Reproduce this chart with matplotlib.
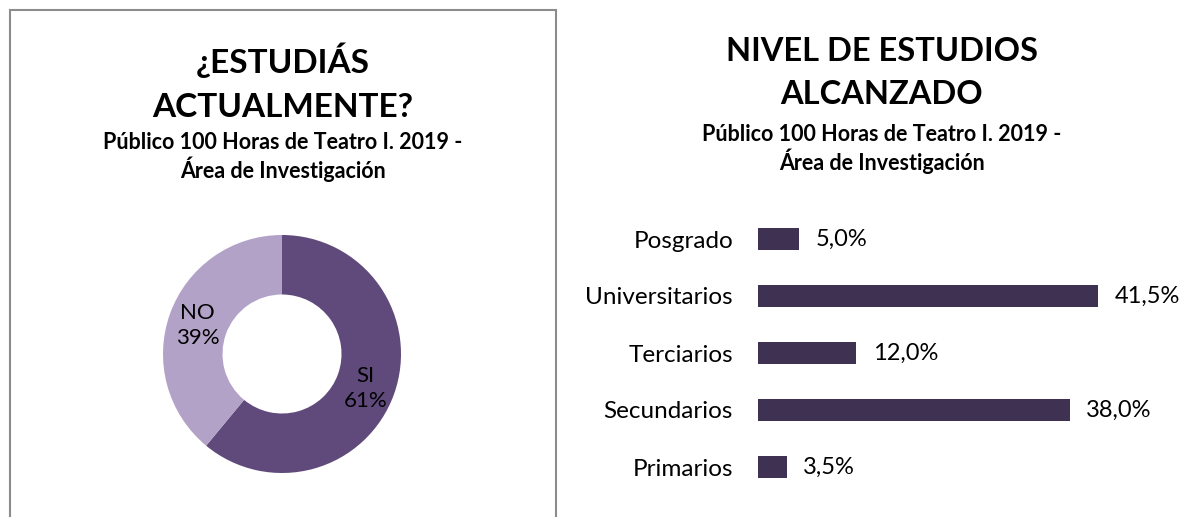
import matplotlib
matplotlib.use("Agg")
import matplotlib.pyplot as plt
from matplotlib.patches import Rectangle

plt.rcParams['font.family'] = ['Lato', 'DejaVu Sans']

# data
estudia_labels = ['SI', 'NO']
estudia_values = [61, 39]

niveles = ['Primarios', 'Secundarios', 'Terciarios', 'Universitarios', 'Posgrado']
niveles_pct = [3.5, 38.0, 12.0, 41.5, 5.0]

subtitulo = 'Público 100 Horas de Teatro I. 2019 -\nÁrea de Investigación'

W, H = 1188, 517
fig = plt.figure(figsize=(W / 100, H / 100), dpi=100)

def fx(px):
    return px / W

def fy(py):
    return 1 - py / H

# frame around the left chart
fig.patches.append(Rectangle((fx(10), fy(530)), fx(546), 520 / H,
                             transform=fig.transFigure, fill=False,
                             edgecolor='#8C8C8C', linewidth=1.5))

# ---- donut ----
ax1 = fig.add_axes([fx(163), fy(473), fx(238), 238 / H])
wedges, _ = ax1.pie(estudia_values, colors=['#604A7B', '#B3A2C7'],
                    startangle=90, counterclock=False,
                    wedgeprops=dict(width=0.5, edgecolor='none'))
ax1.set_xlim(-1, 1)
ax1.set_ylim(-1, 1)
ax1.set_aspect('equal')
ax1.text(0.70, -0.29, f'{estudia_labels[0]}\n{estudia_values[0]}%', ha='center', va='center',
         fontsize=16, linespacing=1.35)
ax1.text(-0.71, 0.24, f'{estudia_labels[1]}\n{estudia_values[1]}%', ha='center', va='center',
         fontsize=16, linespacing=1.35)

fig.text(fx(283), fy(82), '¿ESTUDIÁS\nACTUALMENTE?', ha='center', va='center',
         fontsize=24, fontweight='bold', linespacing=1.62)
fig.text(fx(283), fy(157), subtitulo, ha='center', va='center',
         fontsize=15.5, fontweight='bold', linespacing=1.2)

# ---- bars ----
ax2 = fig.add_axes([fx(758), fy(495.5), fx(410), 285 / H])
bars = ax2.barh(niveles, niveles_pct, height=0.4, color='#3F3151')
ax2.bar_label(bars, labels=[f'{v:.1f}%'.replace('.', ',') for v in niveles_pct],
              padding=12, fontsize=17)
ax2.set_xlim(0, 50)
ax2.set_ylim(-0.5, 4.5)
ax2.tick_params(axis='y', length=0, pad=18, labelsize=17.5)
ax2.set_xticks([])
for s in ax2.spines.values():
    s.set_visible(False)

fig.text(fx(882), fy(73), 'NIVEL DE ESTUDIOS\nALCANZADO', ha='center', va='center',
         fontsize=23.5, fontweight='bold', linespacing=1.62)
fig.text(fx(882), fy(149), subtitulo, ha='center', va='center',
         fontsize=15.5, fontweight='bold', linespacing=1.2)

fig.savefig('out.png', dpi=100)
